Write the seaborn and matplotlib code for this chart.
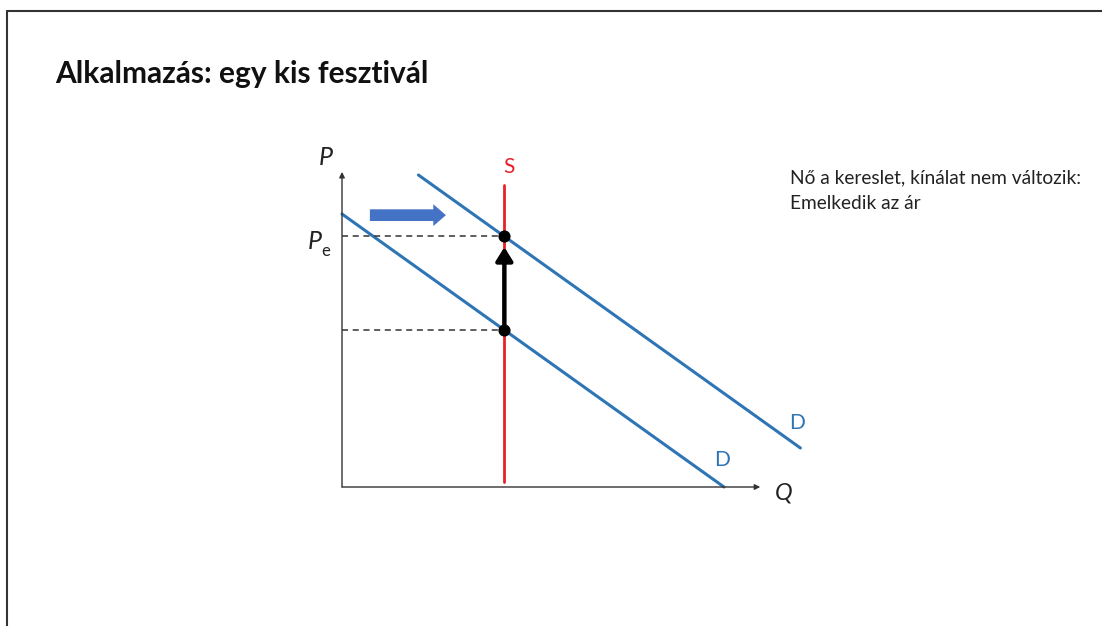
import numpy as np
import pandas as pd
import matplotlib
matplotlib.use("Agg")
import matplotlib.pyplot as plt
import matplotlib.patches as mpatches
from matplotlib.lines import Line2D
import seaborn as sns

# Demand curves before and after the shift (quantity, price)
q_d1 = [0.0, 10.0]
p_d1 = [7.0, 0.0]
q_d2 = [2.0, 12.0]
p_d2 = [8.0, 1.0]

# Vertical (fixed) supply
q_s = 4.25
p_s = [0.13, 7.74]

# Equilibria: old and new price at the fixed quantity
p_old = 4.03
p_new = 6.43

# Axis extents
q_axis_end = 10.95
p_axis_end = 8.08

title = "Alkalmazás: egy kis fesztivál"
note_lines = ["Nő a kereslet, kínálat nem változik:", "Emelkedik az ár"]

sns.set_theme(style="white")
plt.rcParams["font.family"] = ["Lato", "DejaVu Sans"]

W, H = 1102, 626
fig = plt.figure(figsize=(W / 100, H / 100), dpi=100)
ax = fig.add_axes([0, 0, 1, 1])
ax.set_xlim(-8.953, 19.895)
ax.set_ylim(-3.564, 12.487)
ax.axis("off")

blue = "#2E75B6"
red = "#E8202A"

demand = pd.concat([
    pd.DataFrame({"Q": q_d1, "P": p_d1, "curve": "D1"}),
    pd.DataFrame({"Q": q_d2, "P": p_d2, "curve": "D2"}),
])
sns.lineplot(data=demand, x="Q", y="P", units="curve", estimator=None,
             color=blue, lw=2.2, ax=ax, legend=False)

# Axes with arrow heads
ax.annotate("", xy=(0, p_axis_end), xytext=(0, 0),
            arrowprops=dict(arrowstyle="-|>", color="#333333", lw=1.0,
                            mutation_scale=8, shrinkA=0, shrinkB=0))
ax.annotate("", xy=(q_axis_end, 0), xytext=(0, 0),
            arrowprops=dict(arrowstyle="-|>", color="#333333", lw=1.0,
                            mutation_scale=8, shrinkA=0, shrinkB=0))

# Supply
ax.plot([q_s, q_s], p_s, color=red, lw=2.0)

# Dashed guides to the price axis
for p in (p_new, p_old):
    ax.plot([0, q_s], [p, p], color="#333333", lw=1.1, ls=(0, (4, 3)))

# Price rise arrow
ax.annotate("", xy=(q_s, p_new - 0.28), xytext=(q_s, p_old),
            arrowprops=dict(arrowstyle="-|>,head_length=0.4,head_width=0.25",
                            color="black", lw=3.2,
                            mutation_scale=20, shrinkA=0, shrinkB=0))

# Equilibrium points
ax.scatter([q_s, q_s], [p_new, p_old], s=60, color="black", zorder=5)

# Demand shift arrow
ax.add_patch(mpatches.FancyArrow(0.73, 6.97, 1.99, 0.0, width=0.30,
                                 head_width=0.56, head_length=0.33,
                                 length_includes_head=True,
                                 color="#4472C4", lw=0))

# Labels
ax.text(-0.42, 8.45, "P", fontsize=18, style="italic", ha="center", va="center",
        color="#222222")
ax.text(-0.72, 6.3, "P", fontsize=18, style="italic", ha="center", va="center",
        color="#222222")
ax.text(-0.42, 6.05, "e", fontsize=12, ha="center", va="center", color="#222222")
ax.text(q_s + 0.13, 8.2, "S", fontsize=15, ha="center", va="center", color=red)
ax.text(11.9, 1.65, "D", fontsize=15, ha="center", va="center", color=blue)
ax.text(9.95, 0.7, "D", fontsize=15, ha="center", va="center", color=blue)
ax.text(11.55, -0.15, "Q", fontsize=17, style="italic", ha="center", va="center",
        color="#222222")

fig.text(55 / W, 1 - 74 / H, title, fontsize=21.5, fontweight="bold",
         ha="left", va="center", color="#111111")
fig.text(790 / W, 1 - 178 / H, note_lines[0], fontsize=13.8, ha="left",
         va="center", color="#222222")
fig.text(790 / W, 1 - 203 / H, note_lines[1], fontsize=13.8, ha="left",
         va="center", color="#222222")

# Slide frame
fig.add_artist(Line2D([7 / W, 7 / W], [0, 1 - 11 / H], transform=fig.transFigure,
                      color="#333333", lw=1.5))
fig.add_artist(Line2D([7 / W, 1], [1 - 11 / H, 1 - 11 / H], transform=fig.transFigure,
                      color="#333333", lw=1.5))

fig.savefig("out.png", dpi=100, facecolor="white")
